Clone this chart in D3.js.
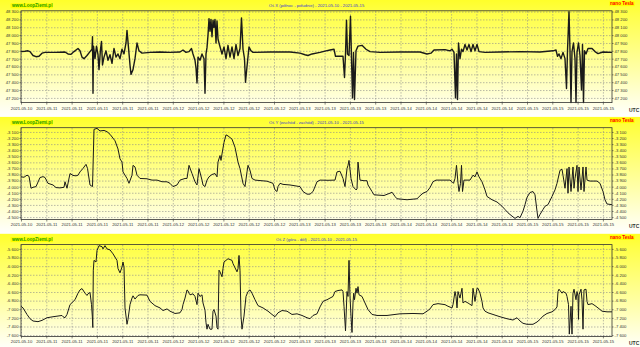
<!DOCTYPE html>
<html>
<head>
<meta charset="utf-8">
<script src="https://cdn.jsdelivr.net/npm/d3@7/dist/d3.min.js"></script>
<style>
  body { margin: 0; background: #fff; }
  svg { display: block; }
</style>
</head>
<body>
<div id="chart"></div>
<script>
// x axis: hours since start of record, one tick every tickStep hours
var tickLabels = ['2021-05-10',
    '2021-05-11', '2021-05-11', '2021-05-11', '2021-05-11', '2021-05-11',
    '2021-05-12', '2021-05-12', '2021-05-12', '2021-05-12', '2021-05-12',
    '2021-05-13', '2021-05-13', '2021-05-13', '2021-05-13',
    '2021-05-14', '2021-05-14', '2021-05-14', '2021-05-14', '2021-05-14',
    '2021-05-15', '2021-05-15', '2021-05-15', '2021-05-15'];
var tickStep = 5.06,
    hoursSpan = 118.2;

var titles = ['Oś X (północ - południe) - 2021-05-10 - 2021-05-15',
    'Oś Y (wschód - zachód) - 2021-05-10 - 2021-05-15',
    'Oś Z (góra - dół) - 2021-05-10 - 2021-05-15'];

var yTicksX = [47200, 47300, 47400, 47500, 47600, 47700, 47800, 47900, 48000, 48100, 48200, 48300];
var yTicksY = [-4500, -4400, -4300, -4200, -4100, -4000, -3900, -3800, -3700, -3600, -3500, -3400, -3300, -3200, -3100];
var yTicksZ = [-7600, -7400, -7200, -7000, -6800, -6600, -6400, -6200, -6000, -5800, -5600];

var domainX = [47140, 48310],
    domainY = [-4540, -3030],
    domainZ = [-7630, -5500];

// [hour, nT]
var seriesX = [[0,47790],[0.8,47795],[1.4,47800],[1.8,47790],[2.4,47740],[3.0,47725],[3.6,47730],[4.2,47770],
    [4.8,47780],[6.8,47780],[8.8,47785],[9.4,47760],[10.0,47755],[10.6,47790],[11.4,47830],[11.8,47800],
    [12.2,47720],[12.6,47700],[13.2,47740],[13.8,47790],[14.2,47820],[14.3,47980],[14.4,47260],[14.5,47860],
    [14.8,47700],[15.1,47860],[15.4,47750],[15.6,47560],[15.9,47820],[16.1,47920],[16.3,47620],[16.6,47720],
    [17.0,47800],[17.4,47680],[17.8,47750],[18.2,47640],[18.6,47830],[19.0,47720],[19.4,47760],[19.8,47700],
    [20.2,47820],[20.6,47760],[21.0,47900],[21.2,48060],[21.5,47840],[21.8,47620],[22.0,47500],[22.4,47560],
    [22.8,47700],[23.2,47900],[23.6,47800],[24.2,47770],[25.8,47780],[27.8,47785],[29.8,47780],[31.8,47785],
    [32.4,47810],[33.0,47780],[33.6,47790],[34.1,47830],[34.4,47760],[34.8,47680],[35.0,47580],[35.2,47390],
    [35.4,47720],[35.8,47680],[36.2,47760],[36.6,47700],[36.8,47260],[37.0,47760],[37.2,47840],[37.4,48000],
    [37.6,48210],[37.8,48050],[38.0,48200],[38.2,47980],[38.4,48190],[38.6,48100],[38.8,48200],[39.0,47900],
    [39.2,48180],[39.4,47950],[39.6,47900],[39.9,47830],[40.2,47760],[40.6,47850],[41.0,47700],[41.4,47870],
    [41.8,47720],[42.2,47850],[42.6,47700],[43.0,47880],[43.4,47740],[43.8,47830],[44.1,48220],[44.4,47820],
    [44.7,47700],[44.9,47400],[45.2,47600],[45.6,47850],[46.0,47800],[46.4,47780],[49.8,47785],[53.8,47785],
    [55.8,47770],[56.8,47750],[57.4,47740],[58.2,47760],[59.8,47780],[61.0,47800],[61.8,47810],[62.6,47820],
    [62.9,47730],[64.4,47730],[64.7,47460],[64.9,47760],[65.1,48190],[65.3,47760],[65.6,47740],[65.9,48240],
    [66.1,47700],[66.3,47200],[66.5,47780],[66.7,47180],[67.0,47800],[67.4,47860],[68.2,47870],[69.0,47820],
    [69.8,47790],[71.8,47780],[75.8,47785],[79.8,47785],[81.2,47760],[82.0,47770],[82.6,47810],[84.8,47815],
    [85.8,47800],[86.2,47820],[86.6,47780],[86.9,47200],[87.1,47760],[87.3,47180],[87.5,47900],[87.8,47700],
    [88.1,47820],[88.4,47790],[88.8,47880],[89.2,47810],[89.6,47880],[90.0,47790],[90.4,47880],[90.8,47800],
    [91.2,47880],[91.6,47790],[92.8,47780],[95.8,47785],[99.8,47790],[103.8,47785],[106.4,47800],[107.0,47810],
    [107.3,47730],[107.6,47760],[108.0,47700],[108.4,47780],[108.8,47700],[109.1,47320],[109.3,47800],[109.6,48300],
    [109.8,47800],[110.0,47140],[110.2,47790],[110.5,47900],[110.8,47700],[111.0,47140],[111.2,47780],[111.5,47900],
    [111.8,47740],[112.1,47300],[112.3,47880],[112.5,47140],[112.7,47800],[113.0,47760],[113.4,47830],[114.2,47830],
    [114.8,47790],[115.4,47765],[116.4,47785],[118.2,47780]];

var seriesY = [[0,-3838],[0.6,-3845],[1.2,-3811],[1.6,-3830],[2.0,-4026],[2.4,-4010],[3.0,-3999],[3.8,-3850],
    [4.4,-3835],[4.8,-3849],[5.4,-3945],[6.4,-3972],[7.0,-4015],[7.8,-4020],[8.6,-4010],[8.8,-3919],
    [9.2,-4026],[9.8,-3784],[10.4,-3815],[11.0,-3822],[11.4,-3811],[11.8,-3757],[12.4,-3700],[13.0,-3633],
    [13.3,-3700],[13.8,-3972],[14.3,-3999],[14.6,-3057],[15.2,-3041],[15.8,-3084],[16.6,-3075],[17.2,-3095],
    [17.8,-3138],[18.8,-3245],[19.4,-3380],[19.8,-3542],[20.2,-3595],[20.4,-3757],[21.2,-3865],[21.6,-3945],
    [22.2,-3811],[22.4,-3649],[22.8,-3676],[23.2,-3811],[23.8,-3865],[25.2,-3870],[26.2,-3892],[27.2,-3892],
    [28.2,-3919],[29.2,-3920],[29.8,-3945],[30.4,-3999],[31.2,-3972],[31.8,-3892],[32.8,-3865],[33.2,-3865],
    [33.6,-3649],[34.2,-3784],[34.8,-3919],[35.2,-3972],[35.6,-3703],[36.2,-3892],[36.4,-3972],[36.8,-3999],
    [37.2,-3892],[37.6,-3838],[38.2,-3800],[38.8,-3784],[39.2,-3838],[39.4,-3595],[39.8,-3488],[40.0,-3568],
    [40.2,-3461],[40.6,-3272],[41.0,-3148],[41.4,-3165],[42.2,-3218],[42.8,-3353],[43.4,-3595],[43.8,-3703],
    [44.4,-3945],[44.8,-3999],[45.2,-3757],[45.4,-3649],[45.8,-3730],[46.2,-3865],[46.8,-3892],[47.8,-3900],
    [49.2,-3910],[50.4,-3945],[50.8,-4053],[51.2,-4080],[51.4,-3999],[51.8,-3945],[52.4,-3962],[53.8,-3972],
    [55.8,-3999],[56.4,-4080],[57.2,-4123],[57.8,-4123],[58.4,-4080],[59.2,-3919],[59.8,-3892],[61.4,-3895],
    [62.8,-3892],[63.2,-3757],[63.8,-3746],[64.4,-3865],[64.8,-3999],[65.2,-3703],[65.4,-3649],[65.6,-3568],
    [66.0,-3865],[66.4,-3999],[67.0,-4053],[67.2,-4040],[67.4,-3595],[67.8,-3892],[68.6,-3902],[69.2,-3902],
    [69.4,-3972],[70.2,-4080],[70.6,-4134],[72.6,-4145],[73.8,-4107],[74.2,-4091],[74.8,-4161],[75.2,-4199],
    [77.2,-4215],[79.2,-4199],[79.8,-4150],[80.4,-4107],[81.2,-4080],[81.8,-4015],[82.4,-3919],[83.0,-3892],
    [85.8,-3892],[86.2,-3919],[86.5,-3945],[86.8,-3865],[87.1,-3649],[87.4,-3945],[87.6,-4080],[87.9,-3945],
    [88.1,-3649],[88.3,-4080],[88.6,-3892],[89.8,-3892],[90.4,-3811],[90.8,-3838],[91.2,-3757],[91.6,-3838],
    [92.2,-3919],[92.8,-4053],[93.2,-4161],[94.2,-4215],[95.2,-4252],[96.2,-4322],[96.8,-4376],[97.4,-4430],
    [98.2,-4484],[98.8,-4522],[99.4,-4489],[99.8,-4511],[100.4,-4403],[100.8,-4296],[101.2,-4177],[101.8,-4096],
    [102.4,-4080],[102.8,-4134],[103.2,-4403],[103.4,-4522],[103.8,-4457],[104.4,-4376],[104.8,-4322],[105.4,-4296],
    [106.2,-4161],[106.8,-4053],[107.2,-3945],[107.8,-3730],[108.2,-3714],[108.4,-3811],[108.8,-4026],[109.2,-3703],
    [109.4,-4107],[109.6,-3676],[110.0,-4080],[110.4,-3676],[110.6,-4026],[110.8,-3865],[111.2,-3649],[111.4,-4080],
    [111.6,-3676],[112.0,-4053],[112.4,-3676],[112.6,-4080],[113.0,-3676],[113.2,-3892],[113.8,-3908],[115.2,-3908],
    [115.8,-3945],[116.4,-4080],[116.8,-4215],[117.2,-4285],[118.2,-4296]];

var seriesZ = [[0,-6931],[0.4,-6969],[1.2,-7121],[1.8,-7220],[2.4,-7273],[3.4,-7288],[4.2,-7258],[5.2,-7197],
    [6.4,-7174],[8.2,-7144],[8.4,-7174],[8.8,-7197],[9.2,-7121],[9.8,-6893],[10.8,-6779],[11.4,-6627],
    [11.8,-6551],[12.2,-6520],[12.8,-6627],[13.2,-6680],[13.4,-6642],[13.8,-6611],[14.1,-6893],[14.26,-7159],
    [14.36,-7425],[14.46,-6094],[14.6,-5866],[15.0,-5904],[15.2,-5638],[15.6,-5524],[16.2,-5547],[16.4,-5600],
    [16.8,-5524],[17.2,-5600],[17.8,-5623],[18.4,-5714],[19.2,-5866],[19.4,-6056],[19.8,-6155],[20.2,-6018],
    [20.4,-5904],[20.6,-6018],[20.8,-6969],[21.2,-7349],[21.4,-7235],[21.8,-6893],[22.2,-6741],[22.4,-6688],
    [22.8,-6764],[23.4,-6680],[23.8,-6665],[25.2,-6672],[25.8,-6817],[26.8,-6916],[27.8,-6969],[28.4,-7030],
    [29.2,-6992],[29.8,-7045],[30.8,-7098],[31.8,-7083],[32.2,-7007],[32.4,-6893],[32.8,-6741],[33.2,-6551],
    [33.4,-6573],[33.6,-6627],[33.8,-6665],[34.4,-6642],[34.8,-6703],[35.2,-6893],[35.4,-6627],[35.8,-6703],
    [36.2,-6665],[36.4,-6855],[36.8,-7022],[37.0,-7311],[37.2,-7463],[37.4,-7349],[37.8,-7463],[38.2,-7463],
    [38.4,-7045],[38.6,-7007],[39.0,-7159],[39.2,-7425],[39.4,-7463],[39.6,-6094],[39.8,-6132],[40.2,-6246],
    [40.4,-6056],[40.6,-5904],[41.0,-5866],[41.4,-5828],[42.2,-5866],[42.4,-5942],[43.2,-6132],[43.4,-6056],
    [43.6,-5752],[43.8,-6094],[44.0,-7159],[44.2,-7463],[44.6,-7159],[45.0,-6703],[45.4,-6589],[45.8,-6551],
    [46.2,-6627],[46.8,-6779],[47.4,-6916],[48.4,-6969],[49.4,-7045],[50.2,-7121],[50.8,-7174],[51.4,-7083],
    [52.2,-7030],[53.2,-7045],[54.2,-7121],[55.2,-7106],[56.2,-7144],[57.2,-7197],[57.8,-7220],[58.4,-7144],
    [59.2,-7106],[59.8,-6946],[60.4,-6817],[61.2,-6779],[61.8,-6741],[62.4,-6703],[62.8,-6589],[63.4,-6566],
    [64.2,-6551],[64.4,-6589],[64.6,-6931],[64.9,-7501],[65.2,-6589],[65.4,-6703],[65.6,-5866],[65.8,-6703],
    [66.0,-7159],[66.2,-7539],[66.4,-6855],[66.54,-6627],[66.7,-6779],[67.0,-6513],[67.2,-6627],[67.4,-6475],
    [67.6,-6665],[68.2,-6703],[68.8,-6855],[69.4,-7007],[70.2,-7121],[71.2,-7144],[73.2,-7144],[75.8,-7106],
    [78.4,-7098],[80.4,-7106],[81.2,-7045],[81.8,-6992],[82.4,-6893],[83.4,-6870],[84.8,-6893],[85.4,-6931],
    [86.2,-6969],[86.4,-6893],[86.8,-6589],[87.0,-6703],[87.2,-6969],[87.4,-6589],[87.8,-6741],[88.2,-6513],
    [88.4,-6855],[88.8,-6817],[89.4,-6855],[90.2,-6916],[90.4,-6513],[90.8,-6817],[91.2,-6513],[91.4,-6513],
    [91.8,-6627],[92.2,-6817],[92.4,-6969],[92.8,-7045],[93.4,-7083],[94.4,-7121],[95.8,-7174],[97.2,-7220],
    [98.4,-7250],[99.2,-7197],[99.8,-7273],[100.4,-7326],[101.2,-7349],[102.4,-7349],[103.2,-7296],[103.8,-7235],
    [104.4,-7159],[105.2,-7098],[106.2,-7060],[106.8,-7007],[107.2,-6946],[107.4,-6589],[107.6,-6535],[108.2,-6627],
    [108.4,-6589],[109.0,-6627],[109.2,-6703],[109.5,-6893],[109.66,-7577],[110.0,-6931],[110.2,-7577],[110.4,-6627],
    [110.6,-6535],[111.0,-6779],[111.2,-6589],[111.4,-6703],[111.5,-7235],[111.6,-6665],[112.0,-6535],[112.2,-6779],
    [112.4,-7463],[112.6,-6551],[113.0,-6535],[113.2,-6817],[113.4,-6893],[114.2,-6870],[114.8,-6916],[115.4,-6969],
    [116.2,-7045],[117.2,-7060],[118.2,-7060]];

var width = 640,
    height = 347,
    panel_height = 116.9;

var plot_left = 21,
    plot_right = 612,
    plot_top = 10.8,
    plot_bottom = 102.6;

var fontFamily = '"Liberation Sans", Arial, sans-serif';

var nf = d3.formatLocale({decimal: '.', thousands: ' ', grouping: [3], currency: ['', ''], minus: '-'})
    .format(',');

var svg = d3.select('#chart')
    .append('svg')
    .attr('width', width)
    .attr('height', height);

var defs = svg.append('defs');
var grad = defs.append('linearGradient')
    .attr('id', 'panel_bg')
    .attr('x1', '0%').attr('y1', '0%')
    .attr('x2', '0%').attr('y2', '100%');
grad.append('stop').attr('offset', '0%').attr('stop-color', '#ffff2a');
grad.append('stop').attr('offset', '12%').attr('stop-color', '#ffff48');
grad.append('stop').attr('offset', '60%').attr('stop-color', '#ffffa8');
grad.append('stop').attr('offset', '100%').attr('stop-color', '#ffffff');

var x = d3.scaleLinear()
    .domain([0, hoursSpan])
    .range([plot_left, plot_right]);

var tickHours = tickLabels.map(function (d, k) { return k * tickStep; });

var panels = [
    {title: titles[0], data: seriesX, domain: domainX, ticks: yTicksX, stroke: 1.4},
    {title: titles[1], data: seriesY, domain: domainY, ticks: yTicksY, stroke: 1.0},
    {title: titles[2], data: seriesZ, domain: domainZ, ticks: yTicksZ, stroke: 1.0}
];

// highlighted label: yellow box behind bold text
function marker_text(g, tx, ty, color, label) {
    var box = g.append('rect').attr('fill', '#ffff00');
    var t = g.append('text')
        .attr('x', tx)
        .attr('y', ty)
        .attr('fill', color)
        .style('font-family', fontFamily)
        .style('font-size', '4.6px')
        .style('font-weight', 'bold')
        .text(label);
    var bb = t.node().getBBox();
    box.attr('x', bb.x - 0.5).attr('y', bb.y)
        .attr('width', bb.width + 1).attr('height', bb.height);
}

panels.forEach(function (p, i) {
    var g = svg.append('g')
        .attr('transform', 'translate(0,' + (i * panel_height) + ')');

    g.append('rect')
        .attr('width', width)
        .attr('height', panel_height)
        .attr('fill', 'url(#panel_bg)');

    var y = d3.scaleLinear()
        .domain(p.domain)
        .range([plot_bottom, plot_top]);

    // grid
    var hgrid = g.append('g')
        .attr('transform', 'translate(' + plot_left + ',0)')
        .call(d3.axisLeft(y).tickValues(p.ticks).tickSize(-(plot_right - plot_left)).tickFormat(''));
    var vgrid = g.append('g')
        .attr('transform', 'translate(0,' + plot_bottom + ')')
        .call(d3.axisBottom(x).tickValues(tickHours).tickSize(-(plot_bottom - plot_top)).tickFormat(''));
    [hgrid, vgrid].forEach(function (gr) {
        gr.select('.domain').remove();
        gr.selectAll('line')
            .attr('stroke', '#8c8c8c')
            .attr('stroke-width', 0.6)
            .attr('stroke-dasharray', '1.5,1.5');
    });

    // series
    var line = d3.line()
        .x(function (d) { return x(d[0]); })
        .y(function (d) { return y(d[1]); });
    g.append('path')
        .datum(p.data)
        .attr('fill', 'none')
        .attr('stroke', '#1a1a1a')
        .attr('stroke-width', p.stroke)
        .attr('stroke-linejoin', 'round')
        .attr('d', line);

    // frame
    g.append('rect')
        .attr('x', plot_left)
        .attr('y', plot_top)
        .attr('width', plot_right - plot_left)
        .attr('height', plot_bottom - plot_top)
        .attr('fill', 'none')
        .attr('stroke', '#333')
        .attr('stroke-width', 0.8);

    // axes
    var left = g.append('g')
        .attr('transform', 'translate(' + plot_left + ',0)')
        .call(d3.axisLeft(y).tickValues(p.ticks).tickSize(1.5).tickPadding(1).tickFormat(nf));
    var right = g.append('g')
        .attr('transform', 'translate(' + plot_right + ',0)')
        .call(d3.axisRight(y).tickValues(p.ticks).tickSize(1.5).tickPadding(1).tickFormat(nf));
    var bottom = g.append('g')
        .attr('transform', 'translate(0,' + plot_bottom + ')')
        .call(d3.axisBottom(x).tickValues(tickHours).tickSize(2).tickPadding(2)
            .tickFormat(function (d, k) { return tickLabels[k]; }));
    [left, right, bottom].forEach(function (ax) {
        ax.select('.domain').remove();
        ax.selectAll('line').attr('stroke', '#333').attr('stroke-width', 0.6);
        ax.selectAll('text')
            .attr('fill', '#333')
            .style('font-family', fontFamily)
            .style('font-size', '4.2px');
    });

    // header texts
    marker_text(g, 12, 7.3, '#1a9a00', 'www.LoopZiemi.pl');
    marker_text(g, 610, 5.2, '#ff0000', 'nano Tesla');

    g.append('text')
        .attr('x', (plot_left + plot_right) / 2)
        .attr('y', 7.3)
        .attr('text-anchor', 'middle')
        .attr('fill', '#3a3acc')
        .style('font-family', fontFamily)
        .style('font-size', '4.2px')
        .text(p.title);

    g.append('text')
        .attr('x', 629)
        .attr('y', 111.5)
        .attr('fill', '#333')
        .style('font-family', fontFamily)
        .style('font-size', '5px')
        .style('font-weight', 'bold')
        .text('UTC');
});
</script>
</body>
</html>
